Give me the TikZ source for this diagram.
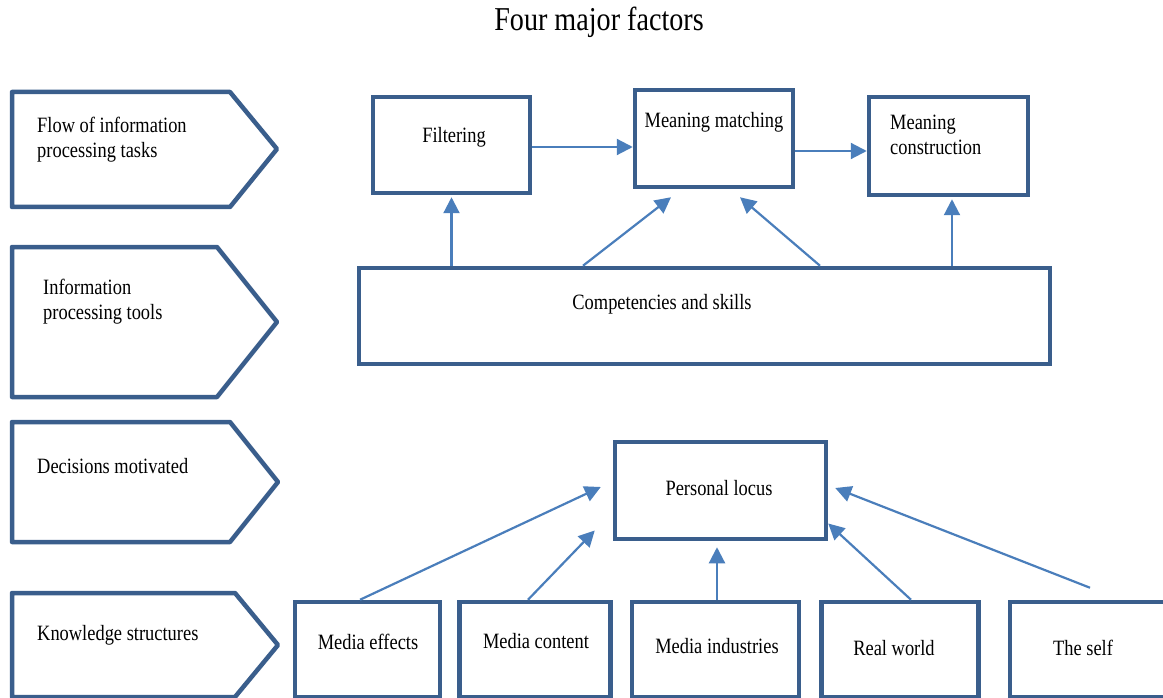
\documentclass[tikz,border=0pt]{standalone}
\usepackage{fontspec}
\setmainfont{Liberation Serif}
\usetikzlibrary{arrows.meta,calc}
\definecolor{bord}{HTML}{3A5E8C}
\definecolor{arrc}{HTML}{4A7EBB}
\newcommand{\stx}[1]{\scalebox{0.97}[1.15]{#1}}
\tikzset{
  box/.style={draw=bord,line width=4.5pt,fill=white,rectangle,inner sep=0pt},
  chev/.style={draw=bord,line width=4.5pt,fill=white,line join=round},
  txt/.style={font=\fontsize{19}{25}\selectfont,inner sep=0pt},
  arr/.style={draw=arrc,line width=2.2pt,-{Triangle[length=16pt,width=16pt]}},
}
\begin{document}
\begin{tikzpicture}[x=1pt,y=-1pt]
\useasboundingbox (0,0) rectangle (1163,698);
\clip (0,0) rectangle (1163,698);
% title
\node[font=\fontsize{29}{32}\selectfont,inner sep=0pt] (title) at (599,22) {\stx{Four major factors}};
% chevrons
\draw[chev] (12,92) -- (230,92) -- (277,149) -- (230,207) -- (12,207) -- cycle;
\draw[chev] (12,247) -- (217,247) -- (277,322) -- (217,397) -- (12,397) -- cycle;
\draw[chev] (12,422) -- (230,422) -- (278,482) -- (230,542) -- (12,542) -- cycle;
\draw[chev] (12,593) -- (235,593) -- (278,645) -- (235,697) -- (12,697) -- cycle;
\node[txt,anchor=west,align=left] (l1) at (37,140) {\stx{Flow of information}\\\stx{processing tasks}};
\node[txt,anchor=west,align=left] (l2) at (43,302) {\stx{Information}\\\stx{processing tools}};
\node[txt,anchor=west] (l3) at (37,466) {\stx{Decisions motivated}};
\node[txt,anchor=west] (l4) at (37,635) {\stx{Knowledge structures}};
% top boxes
\node[box,minimum width=157pt,minimum height=96pt] (filt) at (451.5,145) {};
\node[box,minimum width=158pt,minimum height=97pt] (mm) at (714,138.5) {};
\node[box,minimum width=159pt,minimum height=98pt] (mc) at (948.5,146) {};
\node[box,minimum width=691pt,minimum height=96pt] (comp) at (704.5,316) {};
\node[txt] (filtt) at (454,137) {\stx{Filtering}};
\node[txt] (mmt) at (714,122) {\stx{Meaning matching}};
\node[txt,anchor=west,align=left] (mct) at (890,135) {\stx{Meaning}\\\stx{construction}};
\node[txt] (compt) at (662,304) {\stx{Competencies and skills}};
% personal locus
\node[box,minimum width=211pt,minimum height=97pt] (pl) at (720.5,490.5) {};
\node[txt] (plt) at (719,488) {\stx{Personal locus}};
% bottom boxes
\node[box,minimum width=145pt,minimum height=95pt] (me) at (367.5,649.5) {};
\node[box,minimum width=151pt,minimum height=95pt] (mcn) at (535,649.5) {};
\node[box,minimum width=167pt,minimum height=95pt] (mi) at (715.5,649.5) {};
\node[box,minimum width=157pt,minimum height=95pt] (rw) at (900,649.5) {};
\node[box,minimum width=190pt,minimum height=95pt] (ts) at (1105,649.5) {};
\node[txt] (met) at (368,642) {\stx{Media effects}};
\node[txt] (mcnt) at (536,641) {\stx{Media content}};
\node[txt] (mit) at (717,646) {\stx{Media industries}};
\node[txt] (rwt) at (894,648) {\stx{Real world}};
\node[txt] (tst) at (1083,648) {\stx{The self}};
% arrows top
\draw[arr] ([yshift=-2pt]filt.east) -- ([yshift=-2pt]filt.east -| mm.west);
\draw[arr] ([yshift=-12.5pt]mm.east) -- ([yshift=-12.5pt]mm.east -| mc.west);
\draw[arr] (filt.south |- comp.north) -- ([yshift=-2pt]filt.south);
\draw[arr] ([xshift=-121.5pt]comp.north) -- ([xshift=-43pt,yshift=-8pt]mm.south);
\draw[arr] ([xshift=115.5pt]comp.north) -- ([xshift=26pt,yshift=-8pt]mm.south);
\draw[arr] ([xshift=3.5pt]mc.south |- comp.north) -- ([xshift=3.5pt,yshift=-2pt]mc.south);
% arrows bottom
\draw[arr] ([xshift=-7.5pt]me.north) -- ([xshift=-12pt,yshift=3.5pt]pl.west);
\draw[arr] ([xshift=-7pt]mcn.north) -- ([xshift=-18pt,yshift=-40pt]pl.west);
\draw[arr] ([xshift=1.5pt]mi.north) -- ([xshift=-3.5pt,yshift=-6pt]pl.south);
\draw[arr] ([xshift=11pt]rw.north) -- ([xshift=0pt,yshift=-33pt]pl.east);
\draw[arr] ([xshift=-15pt,yshift=12pt]ts.north) -- ([xshift=7pt,yshift=2.5pt]pl.east);
\end{tikzpicture}
\end{document}
